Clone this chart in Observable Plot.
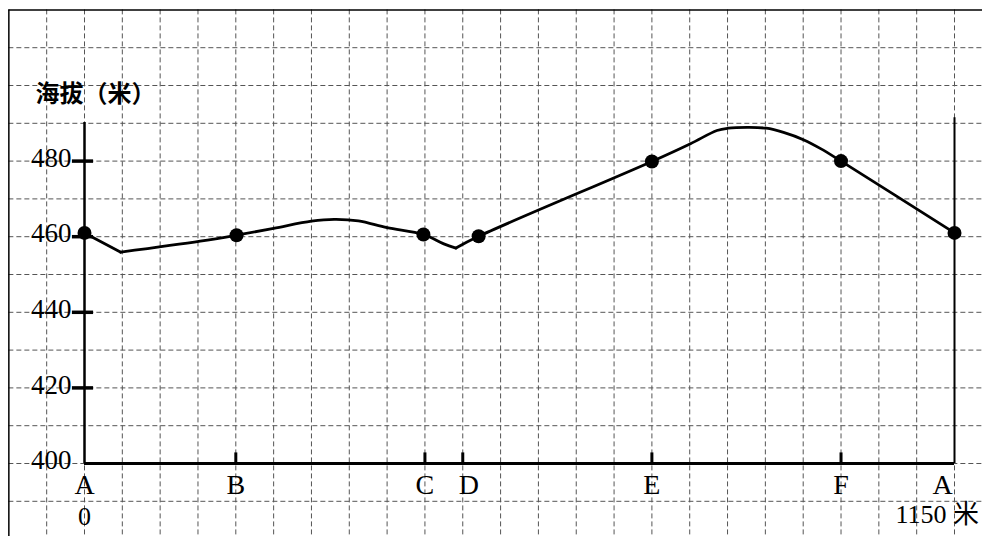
<!DOCTYPE html>
<html><head><meta charset="utf-8">
<script src="https://cdn.jsdelivr.net/npm/d3@7"></script>
<script src="https://cdn.jsdelivr.net/npm/@observablehq/plot@0.6"></script>
<style>html,body{margin:0;padding:0;background:#fff;overflow:hidden}</style>
</head><body><div id="chart"></div>
<script>
// Stations along the profile (distance in metres)
const stationNames = ["A", "B", "C", "D", "E", "F", "A"];
const stationDist  = [0, 200, 450, 500, 750, 1000, 1150];
// Surveyed points (dots)
const dotDist = [0, 201, 448, 521, 750, 1000, 1150];
const dotElev = [461, 460.4, 460.6, 460.1, 479.9, 480, 461];
// Terrain profile, in three pieces (sharp bends at the two hollows)
const seg1Dist = [0, 48];
const seg1Elev = [461, 455.9];
const seg2Dist = [48, 153, 201, 250, 300, 330, 362, 400, 448, 475, 491];
const seg2Elev = [455.9, 458.8, 460.4, 462.2, 464.1, 464.6, 464.2, 462.4, 460.6, 458.1, 457];
const seg3Dist = [491, 521, 750, 801, 836, 851, 876, 901, 924, 951, 973, 1000, 1150];
const seg3Elev = [457, 460.1, 479.9, 484.6, 488.1, 488.7, 488.9, 488.7, 487.6, 485.6, 483.3, 480, 461];
// Axis labels
const yTicks = [400, 420, 440, 460, 480];
const yTitle = "海拔（米）";
const distStart = "0";
const distEnd = "1150 米";
const totalDist = 1150;

const profile = [
  ...seg1Dist.map((d, i) => ({seg: 1, dist: d, elev: seg1Elev[i]})),
  ...seg2Dist.map((d, i) => ({seg: 2, dist: d, elev: seg2Elev[i]})),
  ...seg3Dist.map((d, i) => ({seg: 3, dist: d, elev: seg3Elev[i]}))
];
const dots = dotDist.map((d, i) => ({dist: d, elev: dotElev[i]}));
const stations = stationNames.map((n, i) => ({name: n, dist: stationDist[i]}));
const gridX = d3.range(-50, 1201, 50);
const gridY = d3.range(390, 511, 10);
const serif = "Liberation Serif, DejaVu Serif, serif";
const lbl = {y: () => 400, text: "name", dy: 22, fontSize: 28, fontFamily: serif, fill: "#000"};

const chart = Plot.plot({
  width: 982, height: 536,
  marginTop: 0, marginRight: 0, marginBottom: 0, marginLeft: 0,
  x: {domain: [0, totalDist], range: [84, 954], axis: null},
  y: {domain: [400, 480], range: [463, 160.6], axis: null},
  style: {background: "#fff", color: "#000"},
  marks: [
    // dashed grid
    Plot.ruleX(gridX, {y1: 520, y2: 370, stroke: "#555", strokeWidth: 1, strokeDasharray: "5,3"}),
    Plot.ruleY(gridY, {x1: -100, x2: 1250, stroke: "#555", strokeWidth: 1, strokeDasharray: "5,3"}),
    // outer frame of the grid paper
    Plot.ruleX([-100], {y1: 520, y2: 370, stroke: "#000", strokeWidth: 1.5}),
    Plot.ruleY([520], {x1: -100, x2: 1250, stroke: "#000", strokeWidth: 1.5}),
    // axes
    Plot.ruleX([0], {y1: 400, y2: 490.2, stroke: "#000", strokeWidth: 2.5}),
    Plot.ruleX([totalDist], {y1: 400, y2: 491.5, stroke: "#000", strokeWidth: 2}),
    Plot.ruleY([400], {x1: 0, x2: totalDist, stroke: "#000", strokeWidth: 3}),
    Plot.ruleY(yTicks.filter(d => d > 400), {x1: -16, x2: 12, stroke: "#000", strokeWidth: 3.5}),
    Plot.ruleX(stationDist.slice(1, -1), {y1: 400, y2: 402.8, stroke: "#000", strokeWidth: 3}),
    // y labels
    Plot.text(yTicks, {x: 0, y: d => d, text: d => String(d), textAnchor: "end", dx: -13, dy: -3,
      fontSize: 27, fontFamily: serif, fill: "#000"}),
    Plot.text([yTitle], {frameAnchor: "top-left", dx: 35, dy: 94, lineAnchor: "middle", textAnchor: "start",
      fontSize: 24, fontWeight: "bold", fontFamily: "Noto Sans CJK SC", fill: "#000"}),
    // station labels
    Plot.text(stations.filter((s, i) => i !== 3 && i < stations.length - 1), {x: "dist", ...lbl}),
    Plot.text(stations.filter((s, i) => i === 3), {x: "dist", ...lbl, dx: 6}),
    Plot.text(stations.slice(-1), {x: "dist", ...lbl, dx: -12}),
    Plot.text([distStart], {x: 0, y: () => 400, text: d => d, dy: 53,
      fontSize: 26, fontFamily: serif, fill: "#000"}),
    Plot.text([distEnd], {x: totalDist, y: () => 400, text: d => d, dy: 51, dx: -59, textAnchor: "start",
      fontSize: 26, fontFamily: serif + ", Noto Sans CJK SC", fill: "#000"}),
    // profile
    Plot.line(profile, {x: "dist", y: "elev", z: "seg", curve: "catmull-rom", stroke: "#000", strokeWidth: 2.8}),
    Plot.dot(dots, {x: "dist", y: "elev", r: 7, fill: "#000", stroke: "none"})
  ]
});
document.getElementById("chart").appendChild(chart);
</script>
</body></html>
